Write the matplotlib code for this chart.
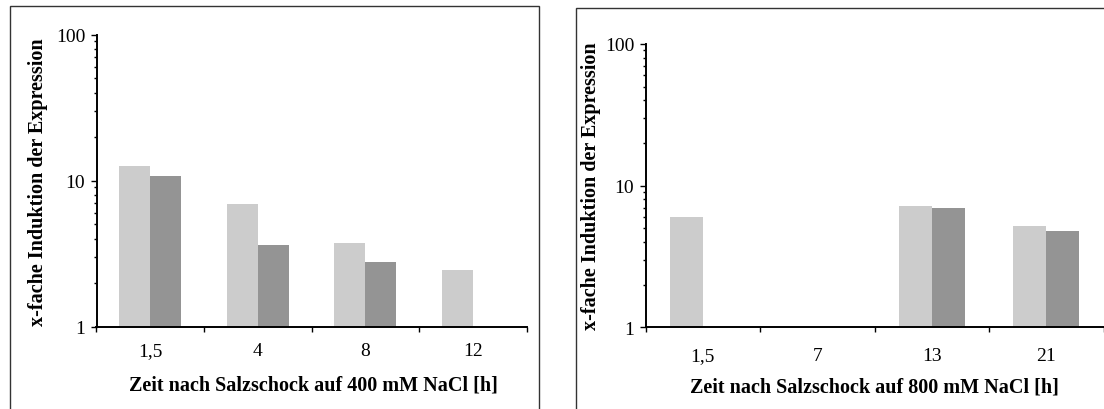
import numpy as np
import matplotlib.pyplot as plt
from matplotlib.patches import Rectangle
from matplotlib.ticker import LogLocator, NullFormatter

plt.rcParams['font.family'] = ['Liberation Serif', 'DejaVu Serif']

# x-fold induction after salt shock, two measurements per time point
hours_400 = ["1,5", "4", "8", "12"]
light_400 = [12.5, 6.9, 3.74, 2.44]
dark_400 = [10.8, 3.62, 2.77, np.nan]

hours_800 = ["1,5", "7", "13", "21"]
light_800 = [6.0, np.nan, 7.18, 5.19]
dark_800 = [np.nan, np.nan, 6.95, 4.78]

LIGHT = "#cccccc"
DARK = "#949494"
BAR_W = 0.288
TICK_FS = 14
LABEL_FS = 14.5


def draw_panel(ax, labels, light, dark, xpad):
    x = np.arange(len(labels))
    light = np.asarray(light, dtype=float)
    dark = np.asarray(dark, dtype=float)
    ax.bar(x - BAR_W / 2, light - 1, bottom=1, width=BAR_W, color=LIGHT, linewidth=0)
    ax.bar(x + BAR_W / 2, dark - 1, bottom=1, width=BAR_W, color=DARK, linewidth=0)

    ax.set_yscale("log")
    ax.set_ylim(1, 100)
    ax.set_xlim(-0.5, len(labels) - 0.5)
    ax.set_yticks([1, 10, 100], ["1", "10", "100"])
    ax.yaxis.set_minor_locator(LogLocator(base=10, subs=np.arange(2, 10)))
    ax.yaxis.set_minor_formatter(NullFormatter())

    ax.set_xticks(x, labels)
    ax.set_xticks(np.arange(len(labels) + 1) - 0.5, minor=True)

    for side in ("top", "right"):
        ax.spines[side].set_visible(False)
    for side in ("left", "bottom"):
        ax.spines[side].set_linewidth(1.4)
        ax.spines[side].set_color("black")

    ax.tick_params(axis="y", which="major", direction="out", length=4.1, width=1.0,
                   labelsize=TICK_FS, pad=4)
    ax.tick_params(axis="y", which="minor", direction="out", length=2.4, width=1.0)
    ax.tick_params(axis="x", which="major", length=0, labelsize=TICK_FS, pad=xpad)
    ax.tick_params(axis="x", which="minor", direction="out", length=3.4, width=1.0)


fig = plt.figure(figsize=(11.04, 4.10), dpi=100)

# frames around the two panels
fig.patches.append(Rectangle((10 / 1104, -0.1), 529 / 1104, 1.1 - 7 / 410,
                             transform=fig.transFigure, fill=False,
                             edgecolor="#333333", linewidth=1.0))
fig.patches.append(Rectangle((575.7 / 1104, -0.1), 0.6, 1.1 - 9 / 410,
                             transform=fig.transFigure, fill=False,
                             edgecolor="#333333", linewidth=1.0))

ax1 = fig.add_axes([96.5 / 1104, 82.5 / 410, 430.2 / 1104, 292.0 / 410])
ax1.patch.set_alpha(0)
draw_panel(ax1, hours_400, light_400, dark_400, xpad=11)

ax2 = fig.add_axes([645.5 / 1104, 81.7 / 410, 458.0 / 1104, 283.3 / 410])
ax2.patch.set_alpha(0)
draw_panel(ax2, hours_800, light_800, dark_800, xpad=14.5)

ylab = "x-fache Induktion der Expression"
fig.text(37.8 / 1104, 1 - 182 / 410, ylab, rotation=90, ha="center", va="center",
         fontsize=LABEL_FS, fontweight="bold")
fig.text(590.7 / 1104, 1 - 186 / 410, ylab, rotation=90, ha="center", va="center",
         fontsize=LABEL_FS, fontweight="bold")

fig.text(313 / 1104, 1 - 386 / 410, "Zeit nach Salzschock auf 400 mM NaCl [h]",
         ha="center", va="center", fontsize=LABEL_FS, fontweight="bold")
fig.text(874.5 / 1104, 1 - 387.5 / 410, "Zeit nach Salzschock auf 800 mM NaCl [h]",
         ha="center", va="center", fontsize=LABEL_FS, fontweight="bold")

fig.savefig("out.png", dpi=100)
